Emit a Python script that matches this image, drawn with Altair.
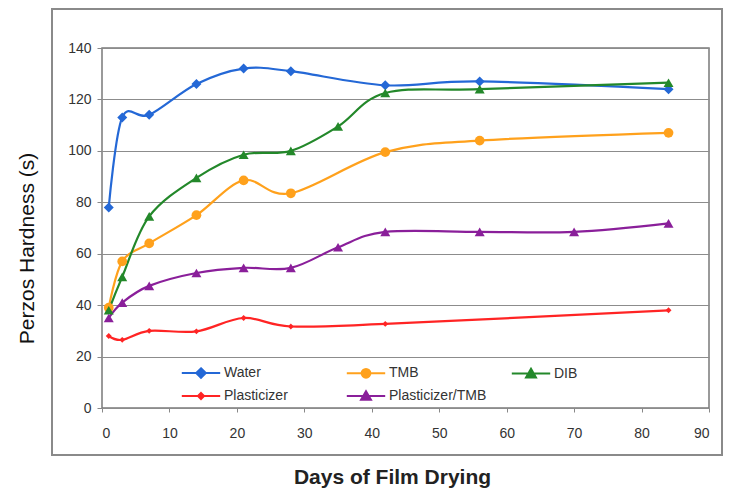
import altair as alt
import pandas as pd

# ---- data ----
series_names = ["Water", "TMB", "DIB", "Plasticizer", "Plasticizer/TMB"]

water_days = [1, 3, 7, 14, 21, 28, 42, 56, 84]
water_vals = [78, 113, 114, 126, 132, 131, 125.5, 127, 124]

tmb_days = [1, 3, 7, 14, 21, 28, 42, 56, 84]
tmb_vals = [39, 57, 64, 75, 88.5, 83.5, 99.5, 104, 107]

dib_days = [1, 3, 7, 14, 21, 28, 35, 42, 56, 84]
dib_vals = [38, 51, 74.5, 89.5, 98.5, 100, 109.5, 122.5, 124, 126.5]

plast_days = [1, 3, 7, 14, 21, 28, 42, 84]
plast_vals = [28, 26.5, 30, 29.8, 35, 31.7, 32.7, 38]

ptmb_days = [1, 3, 7, 14, 21, 28, 35, 42, 56, 70, 84]
ptmb_vals = [35, 41, 47.5, 52.5, 54.5, 54.5, 62.5, 68.5, 68.5, 68.5, 71.8]

y_ticks = [0, 20, 40, 60, 80, 100, 120, 140]
x_ticks = [0, 10, 20, 30, 40, 50, 60, 70, 80, 90]

rows = []
for name, d, v in zip(series_names,
                      [water_days, tmb_days, dib_days, plast_days, ptmb_days],
                      [water_vals, tmb_vals, dib_vals, plast_vals, ptmb_vals]):
    for dd, vv in zip(d, v):
        rows.append({"series": name, "day": dd, "value": vv})
df = pd.DataFrame(rows)

colors = ["#2468d6", "#ffa11c", "#23882a", "#ff2424", "#8a1f9a"]


def cscale():
    return alt.Scale(domain=series_names, range=colors)


# marker per series (style)
markers = {
    "Water": ("diamond", 100),
    "TMB": ("circle", 95),
    "DIB": ("triangle-up", 100),
    "Plasticizer": ("diamond", 35),
    "Plasticizer/TMB": ("triangle-up", 100),
}
# legend symbols: long line segment plus marker, in unit coordinates (r = 8px)
legend_paths = [
    "M-2.4,0L2.4,0M0,-0.6L0.6,0L0,0.6L-0.6,0Z",
    "M-2.4,0L2.4,0M-0.55,0a0.55,0.55 0 1,0 1.1,0a0.55,0.55 0 1,0 -1.1,0Z",
    "M-2.4,0L2.4,0M0,-0.6L0.62,0.48L-0.62,0.48Z",
    "M-2.4,0L2.4,0M0,-0.38L0.38,0L0,0.38L-0.38,0Z",
    "M-2.4,0L2.4,0M0,-0.6L0.62,0.48L-0.62,0.48Z",
]

FONT = "Liberation Sans"

x_enc = alt.X("day:Q", scale=alt.Scale(domain=[0, 90], nice=False),
              axis=alt.Axis(values=x_ticks, title="Days of Film Drying", grid=False,
                            domain=False, tickSize=4, tickColor="#888",
                            labelPadding=14, labelFontSize=14, labelColor="#333",
                            labelFont=FONT, titleFont=FONT, titleFontSize=21,
                            titleFontWeight="bold", titleColor="#222",
                            titleX=290, titleY=75, titleBaseline="alphabetic",
                            titleAnchor=None))
y_enc = alt.Y("value:Q", scale=alt.Scale(domain=[0, 140], nice=False),
              axis=alt.Axis(values=y_ticks, title="Perzos Hardness (s)", grid=True,
                            gridColor="#8c8c8c", gridWidth=1, domain=False,
                            tickSize=5, tickColor="#888", labelPadding=6,
                            labelFontSize=14, labelColor="#333", labelFont=FONT,
                            titleFont=FONT, titleFontSize=21, titleFontWeight="normal",
                            titleColor="#111", titleX=-69, titleY=200,
                            titleBaseline="alphabetic", titleAngle=-90))

lines = alt.Chart(df).mark_line(interpolate="cardinal", strokeWidth=2.2).encode(
    x=x_enc, y=y_enc,
    stroke=alt.Stroke("series:N", scale=cscale(), legend=None),
    detail="series:N",
)

point_layers = []
for name in series_names:
    shp, sz = markers[name]
    point_layers.append(
        alt.Chart(df).transform_filter(alt.datum.series == name)
        .mark_point(filled=True, shape=shp, size=sz, opacity=1)
        .encode(x="day:Q", y="value:Q",
                fill=alt.Fill("series:N", scale=cscale(), legend=None))
    )

leg = dict(title=None, orient="none", legendX=90, legendY=316, columns=3,
           direction="horizontal", gridAlign="all", columnPadding=20,
           rowPadding=5, symbolSize=256, symbolStrokeWidth=2,
           labelFontSize=14, labelFont=FONT, labelColor="#333",
           labelOffset=14, padding=0)

legend_layer = alt.Chart(df).transform_filter("false").mark_point(
    filled=True, strokeWidth=2, size=256, opacity=1).encode(
    x="day:Q", y="value:Q",
    fill=alt.Fill("series:N", scale=cscale(), legend=alt.Legend(**leg)),
    stroke=alt.Stroke("series:N", scale=cscale(), legend=alt.Legend(**leg)),
    shape=alt.Shape("series:N", scale=alt.Scale(domain=series_names, range=legend_paths),
                    legend=alt.Legend(**leg)),
)

frame = alt.Chart(alt.Data(values=[{}])).mark_rect(
    fill=None, stroke="#8a8a8a", strokeWidth=2).encode(
    x=alt.value(-50), x2=alt.value(620), y=alt.value(-39), y2=alt.value(407))

chart = alt.layer(frame, lines, *point_layers, legend_layer).resolve_scale(
    fill="independent", stroke="independent", shape="independent"
).properties(
    width=607, height=360,
    autosize=alt.AutoSizeParams(type="none"),
    padding={"left": 94, "top": 40, "right": 14, "bottom": 80},
).configure_view(stroke="#7a7a7a", strokeWidth=1.5)

chart.save("out.html", embed_options={"renderer": "svg", "actions": False})
